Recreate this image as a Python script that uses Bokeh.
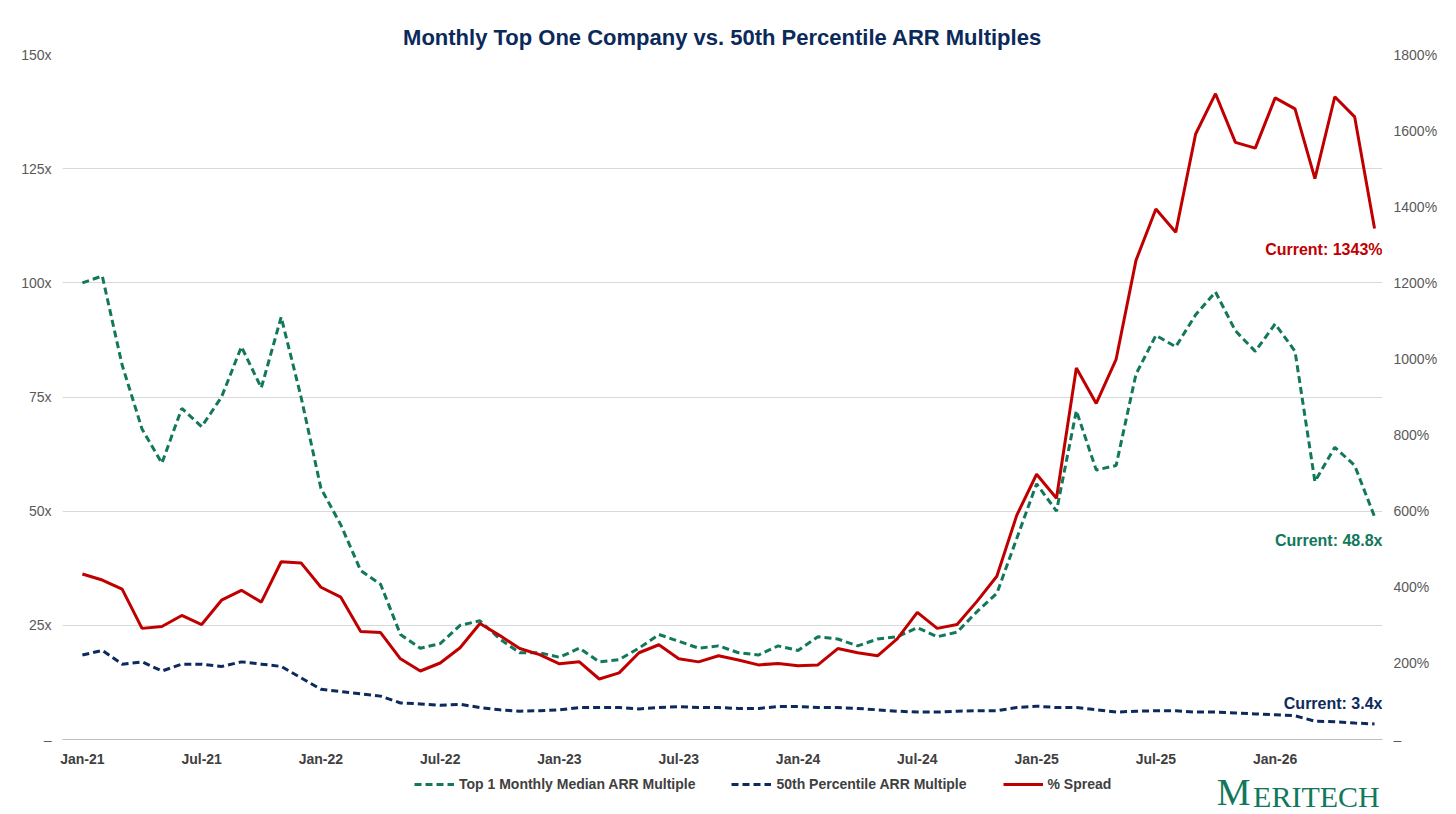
from bokeh.plotting import figure
from bokeh.layouts import column
from bokeh.models import Range1d, LinearAxis, Legend, LegendItem, Label, FixedTicker, ColumnDataSource
from bokeh.core.properties import value
from bokeh.embed import file_html
from bokeh.resources import INLINE

months = ["Jan","Feb","Mar","Apr","May","Jun","Jul","Aug","Sep","Oct","Nov","Dec"]
dates = [f"{months[i % 12]}-{21 + i // 12}" for i in range(66)]

top1 = [100,101.5,82,68,60.5,72.5,68.5,75,86,77,92.5,75,55,47,37,34,23,20,21,25,26,22,19,19,18,20,17,17.5,20,23,21.5,20,20.5,19,18.5,20.5,19.5,22.5,22,20.5,22,22.5,24.5,22.5,23.5,28,32,44,56,50,72,59,60,80,88.5,86,93,98,89.5,85,91,85,56.5,64,60,48.8]
median50 = [18.5,19.5,16.5,17,15,16.5,16.5,16,17,16.5,16,13.5,11,10.5,10,9.5,8,7.8,7.5,7.7,7,6.5,6.2,6.3,6.5,7,7,7,6.7,7,7.2,7,7,6.8,6.8,7.2,7.2,7,7,6.8,6.5,6.2,6,6,6.2,6.3,6.3,7,7.3,7,7,6.5,6,6.2,6.3,6.3,6,6,5.8,5.6,5.4,5.2,4,3.9,3.6,3.4]
spread = [435,419,395,292,297,326,302,366,392,361,467,464,400,374,284,281,212,180,201,241,305,273,239,223,199,204,159,175,228,249,212,204,220,209,196,200,194,196,239,228,220,265,334,292,302,363,429,589,697,634,976,883,999,1259,1394,1333,1591,1697,1569,1554,1686,1657,1474,1689,1636,1343]
xs = list(range(66))
legend_labels = ["Top 1 Monthly Median ARR Multiple", "50th Percentile ARR Multiple", "% Spread"]

GREEN = "#12785c"
NAVY = "#0c2a5c"
RED = "#c00000"
FONT = "Liberation Sans"

p = figure(width=1440, height=772, output_backend="svg", toolbar_location=None,
           x_range=Range1d(-1, 65.4), y_range=Range1d(0, 150),
           min_border_top=54, min_border_bottom=33, min_border_left=62, min_border_right=56)
p.title.text = "Monthly Top One Company vs. 50th Percentile ARR Multiples"
p.title.align = "center"
p.title.text_font = FONT
p.title.text_font_size = "22px"
p.title.text_color = "#0b2a5b"
p.outline_line_color = None
p.xgrid.grid_line_color = None
p.ygrid.grid_line_color = "#d9d9d9"
p.ygrid.ticker = FixedTicker(ticks=[0, 25, 50, 75, 100, 125, 150])

p.extra_y_ranges = {"pct": Range1d(0, 1800)}

p.yaxis.ticker = FixedTicker(ticks=[0, 25, 50, 75, 100, 125, 150])
p.yaxis.major_label_overrides = {0: "–", 25: "25x", 50: "50x", 75: "75x", 100: "100x", 125: "125x", 150: "150x"}
ra = LinearAxis(y_range_name="pct", ticker=FixedTicker(ticks=list(range(0, 1801, 200))))
ra.major_label_overrides = {v: (f"{v}%" if v else "–") for v in range(0, 1801, 200)}
p.add_layout(ra, "right")
for ax in [p.yaxis[0], ra]:
    ax.axis_line_color = None
    ax.major_tick_line_color = None
    ax.minor_tick_line_color = None
    ax.major_label_text_font = FONT
    ax.major_label_text_font_size = "14px"
    ax.major_label_text_color = "#595959"

p.xaxis.ticker = FixedTicker(ticks=list(range(0, 66, 6)))
p.xaxis.major_label_overrides = {i: dates[i] for i in range(0, 66, 6)}
p.xaxis.axis_line_color = "#bfbfbf"
p.xaxis.major_tick_line_color = None
p.xaxis.minor_tick_line_color = None
p.xaxis.major_label_text_font = FONT
p.xaxis.major_label_text_font_size = "14px"
p.xaxis.major_label_text_font_style = "bold"
p.xaxis.major_label_text_color = "#404040"

src = ColumnDataSource(dict(x=xs, top1=top1, med=median50, spread=spread))
p.line("x", "top1", source=src, line_color=GREEN, line_width=3, line_dash="7 4")
p.line("x", "med", source=src, line_color=NAVY, line_width=3, line_dash="7 4")
p.line("x", "spread", source=src, line_color=RED, line_width=3, y_range_name="pct")

lab = dict(text_font=FONT, text_font_size="16px", text_font_style="bold", text_align="right")
p.add_layout(Label(x=65.4, y=spread[-1], y_range_name="pct", text=f"Current: {spread[-1]}%",
                   text_color=RED, y_offset=-30, **lab))
p.add_layout(Label(x=65.4, y=top1[-1], text=f"Current: {top1[-1]}x",
                   text_color=GREEN, y_offset=-32, **lab))
p.add_layout(Label(x=65.4, y=median50[-1], text=f"Current: {median50[-1]}x",
                   text_color=NAVY, y_offset=12, **lab))

# legend + logo strip
q = figure(width=1440, height=42, output_backend="svg", toolbar_location=None,
           x_range=Range1d(0, 1440), y_range=Range1d(0, 42),
           min_border=0, min_border_left=0, min_border_right=0, min_border_top=0, min_border_bottom=0)
q.axis.visible = False
q.grid.visible = False
q.outline_line_color = None
g1 = q.line([float("nan")], [float("nan")], line_color=GREEN, line_width=3, line_dash="7 4")
g2 = q.line([float("nan")], [float("nan")], line_color=NAVY, line_width=3, line_dash="7 4")
g3 = q.line([float("nan")], [float("nan")], line_color=RED, line_width=3)
legend = Legend(items=[LegendItem(label=legend_labels[0], renderers=[g1]),
                       LegendItem(label=legend_labels[1], renderers=[g2]),
                       LegendItem(label=legend_labels[2], renderers=[g3])],
                orientation="horizontal", location=(352, 20), border_line_color=None,
                background_fill_alpha=0,
                label_text_font=FONT, label_text_font_size="14px", label_text_font_style="bold",
                label_text_color="#404040", spacing=36, glyph_width=40, margin=0, padding=0)
q.add_layout(legend)
q.text(x=[1437], y=[2], text=["ERITECH"], text_font=value("Liberation Serif"),
       text_font_size="30px", text_color=GREEN, text_align="right", text_baseline="bottom")
q.text(x=[1296], y=[2], text=["M"], text_font=value("Liberation Serif"),
       text_font_size="38px", text_color=GREEN, text_align="right", text_baseline="bottom")

open("out.html", "w").write(file_html(column(p, q, spacing=0), INLINE))
